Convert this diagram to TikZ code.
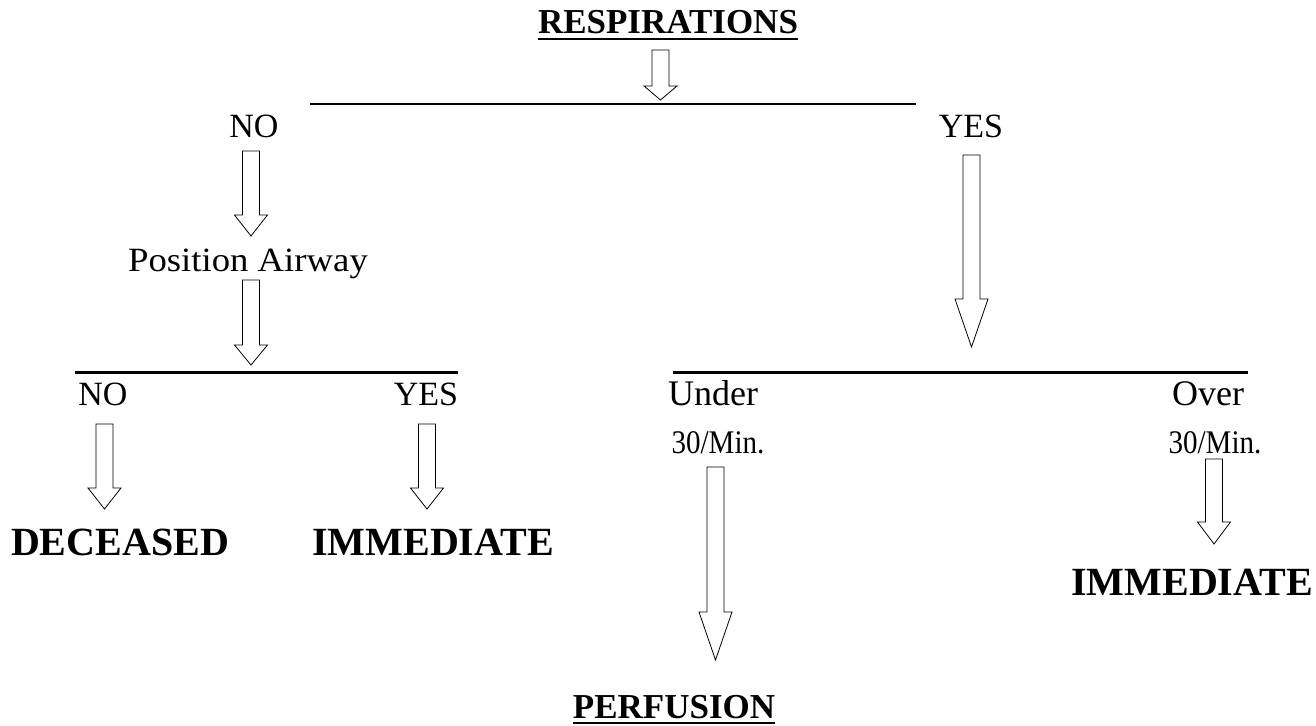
\documentclass[tikz,border=0pt]{standalone}
\usepackage{fontspec}
\setmainfont{Liberation Serif}
\usetikzlibrary{calc}

\tikzset{
  txt/.style={inner sep=0pt, anchor=base},
  lbl/.style={txt, font=\fontsize{34}{40}\selectfont},
  ratelbl/.style={txt, font=\fontsize{36}{42}\selectfont},
  ratenum/.style={txt, font=\fontsize{33}{38}\selectfont},
  title/.style={txt, font=\fontsize{35}{42}\selectfont\bfseries},
  outcome/.style={txt, font=\fontsize{40}{48}\selectfont\bfseries},
  bar/.style={line width=2.6pt},
  uline/.style={line width=2.2pt},
  % hollow block arrow pointing down; #1 = head length in pt
  blockarrow/.style={draw=black, fill=white, line width=0.8pt, line join=miter,
    to path={let \p1=(\tikztostart), \p2=(\tikztotarget) in
      (\x1-8.5pt,\y1) -- (\x1+8.5pt,\y1) -- (\x1+8.5pt,\y2+#1pt) -- (\x1+16.5pt,\y2+#1pt)
      -- (\x1,\y2) -- (\x1-16.5pt,\y2+#1pt) -- (\x1-8.5pt,\y2+#1pt) -- cycle}},
}

\begin{document}
\begin{tikzpicture}[x=1pt, y=-1pt]
\useasboundingbox (0,0) rectangle (1316,725);

% headings and labels
\node[title]   (resp)  at (668,34)    {RESPIRATIONS};
\node[lbl]     (no1)   at (254,137)   {NO};
\node[lbl]     (yes1)  at (971,137)   {YES};
\node[lbl]     (pos)   at (248,271.5) {\scalebox{1.08}[1]{Position Airway}};
\node[lbl]     (no2)   at (103,405)   {NO};
\node[lbl]     (yes2)  at (426,405)   {YES};
\node[outcome] (dec)   at (120,555)   {DECEASED};
\node[outcome] (imm1)  at (433,555)   {IMMEDIATE};
\node[ratelbl] (under) at (713,405)   {Under};
\node[ratelbl] (over)  at (1208,405)  {Over};
\node[ratenum] (ru)    at (718,453)   {\scalebox{0.88}[1]{30/Min.}};
\node[ratenum] (ro)    at (1215,453)  {\scalebox{0.88}[1]{30/Min.}};
\node[outcome] (imm2)  at (1192,595)  {IMMEDIATE};
\node[title]   (perf)  at (674,718)   {PERFUSION};

% underlines of the two headings
\draw[uline] ([yshift=-5pt]resp.base west) -- ([yshift=-5pt]resp.base east);
\draw[uline] ([yshift=-5pt]perf.base west) -- ([yshift=-5pt]perf.base east);

% branching bars
\coordinate (b0w) at (310,104);   \coordinate (b0e) at (916,104);
\coordinate (b1w) at (75,372.5);  \coordinate (b1e) at (458,372.5);
\coordinate (b2w) at (673,372.5); \coordinate (b2e) at (1248,372.5);
\draw[bar] (b0w) -- (b0e);
\draw[bar] (b1w) -- (b1e);
\draw[bar] (b2w) -- (b2e);

% arrow ends
\coordinate (a0s) at (660.5,50);   \coordinate (a0e) at (660.5,100);
\coordinate (a1s) at (251,151);    \coordinate (a1e) at (251,236);
\coordinate (a2s) at (251,280);    \coordinate (a2e) at (251,365);
\coordinate (a3s) at (104.5,424);  \coordinate (a3e) at (104.5,509);
\coordinate (a4s) at (427,424);    \coordinate (a4e) at (427,509);
\coordinate (a5s) at (971.5,155);  \coordinate (a5e) at (971.5,347);
\coordinate (a6s) at (715.5,467);  \coordinate (a6e) at (715.5,660);
\coordinate (a7s) at (1214,459);   \coordinate (a7e) at (1214,544);

\draw[blockarrow=14] (a0s) to (a0e);
\draw[blockarrow=21] (a1s) to (a1e);
\draw[blockarrow=20] (a2s) to (a2e);
\draw[blockarrow=21] (a3s) to (a3e);
\draw[blockarrow=21] (a4s) to (a4e);
\draw[blockarrow=48] (a5s) to (a5e);
\draw[blockarrow=48] (a6s) to (a6e);
\draw[blockarrow=22] (a7s) to (a7e);
\end{tikzpicture}
\end{document}
